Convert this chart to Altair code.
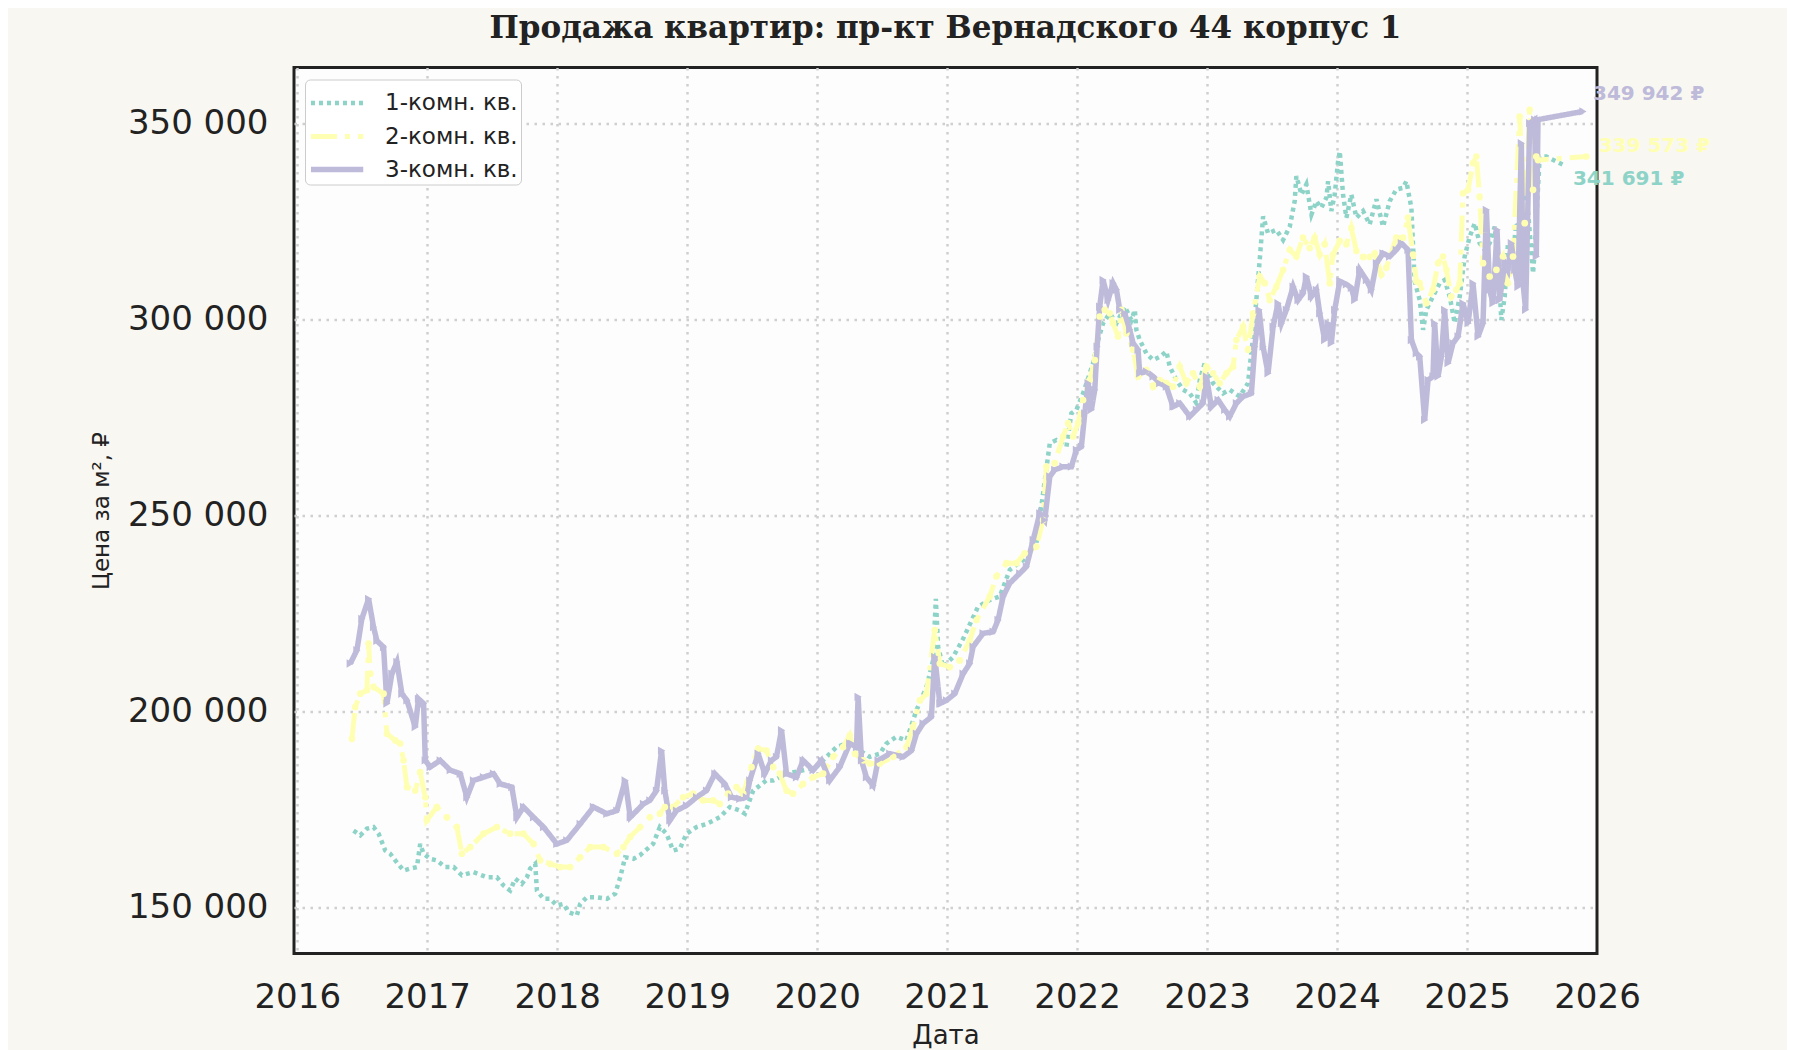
import altair as alt
import pandas as pd

SERIES = ["1-комн. кв.", "2-комн. кв.", "3-комн. кв."]
COLORS = ["#8dd3c7", "#ffffb3", "#bebada"]

YEARS_1K = [
    2016.433, 2016.485, 2016.536, 2016.587, 2016.626, 2016.677, 2016.715, 2016.754, 2016.818, 2016.869,
    2016.921, 2016.946, 2016.972, 2017.023, 2017.074, 2017.138, 2017.203, 2017.267, 2017.356, 2017.459,
    2017.536, 2017.587, 2017.638, 2017.677, 2017.728, 2017.767, 2017.792, 2017.831, 2017.844, 2017.895,
    2017.946, 2017.997, 2018.049, 2018.087, 2018.151, 2018.177, 2018.228, 2018.305, 2018.382, 2018.446,
    2018.485, 2018.523, 2018.587, 2018.636, 2018.738, 2018.790, 2018.841, 2018.892, 2018.944, 2018.995,
    2019.072, 2019.149, 2019.251, 2019.328, 2019.405, 2019.444, 2019.508, 2019.610, 2019.662, 2019.764,
    2019.892, 2019.995, 2020.072, 2020.149, 2020.226, 2020.328, 2020.405, 2020.482, 2020.533, 2020.610,
    2020.687, 2020.764, 2020.841, 2020.892, 2020.913, 2020.931, 2020.969, 2021.046, 2021.123, 2021.238,
    2021.328, 2021.405, 2021.482, 2021.585, 2021.687, 2021.790, 2021.841, 2021.918, 2021.956, 2021.995,
    2022.046, 2022.123, 2022.162, 2022.200, 2022.251, 2022.303, 2022.367, 2022.418, 2022.444, 2022.456,
    2022.482, 2022.533, 2022.585, 2022.636, 2022.687, 2022.713, 2022.764, 2022.815, 2022.867, 2022.918,
    2022.944, 2022.982, 2023.046, 2023.123, 2023.174, 2023.251, 2023.315, 2023.354, 2023.379, 2023.405,
    2023.431, 2023.469, 2023.533, 2023.585, 2023.636, 2023.674, 2023.687, 2023.726, 2023.764, 2023.803,
    2023.841, 2023.879, 2023.918, 2023.931, 2023.956, 2023.982, 2024.008, 2024.021, 2024.046, 2024.072,
    2024.110, 2024.149, 2024.200, 2024.251, 2024.303, 2024.354, 2024.405, 2024.456, 2024.508, 2024.533,
    2024.572, 2024.597, 2024.636, 2024.662, 2024.687, 2024.738, 2024.790, 2024.828, 2024.867, 2024.905,
    2024.944, 2024.982, 2025.021, 2025.059, 2025.097, 2025.136, 2025.174, 2025.213, 2025.251, 2025.264,
    2025.290, 2025.315, 2025.354, 2025.379, 2025.405, 2025.431, 2025.456, 2025.508, 2025.521, 2025.559,
    2025.610, 2025.738,
]
PRICE_1K = [
    169600, 168400, 170100, 170500, 168800, 164500, 163700, 162000, 159400, 159900,
    160300, 166200, 163700, 162400, 162000, 160300, 160300, 158200, 159000, 157700,
    157700, 155600, 154300, 157300, 156000, 157700, 159900, 161100, 154300, 152200,
    152200, 150500, 150900, 148800, 148000, 150900, 152600, 152600, 152200, 153500,
    157700, 162800, 162400, 163300, 166200, 170500, 168800, 164500, 165000, 168800,
    170500, 171300, 173000, 175600, 174700, 173900, 179800, 182400, 182400, 184100,
    185000, 185800, 188400, 190900, 191800, 190000, 188400, 189200, 191800, 193500,
    192600, 200300, 206200, 213000, 228700, 216400, 211300, 213900, 218500, 226700,
    228400, 229300, 236100, 238600, 242900, 268400, 269200, 267500, 276000, 276900,
    281100, 288800, 294700, 299000, 301500, 299000, 303200, 299800, 302400, 297300,
    294700, 291300, 289600, 290400, 291800, 287900, 284500, 282000, 281100, 278600,
    284500, 288800, 283700, 281100, 282000, 280300, 283700, 295600, 304900, 315100,
    326200, 321900, 322800, 320200, 323600, 330100, 336500, 331800, 334400, 326700,
    330100, 328400, 331000, 335200, 327600, 331800, 340300, 342800, 331800, 325900,
    331800, 325900, 327600, 324200, 330600, 323600, 330100, 333100, 333500, 335200,
    328400, 309700, 304900, 297300, 302400, 305800, 309200, 310000, 305800, 299000,
    305800, 316000, 321100, 324500, 319400, 317700, 319400, 323600, 307500, 299800,
    305800, 319400, 316800, 324500, 322800, 319400, 333000, 311700, 317700, 341500,
    341500, 339400,
]

YEARS_2K = [
    2016.421, 2016.446, 2016.485, 2016.536, 2016.549, 2016.562, 2016.587, 2016.664, 2016.690, 2016.754,
    2016.792, 2016.818, 2016.844, 2016.908, 2016.946, 2016.985, 2016.997, 2017.074, 2017.151, 2017.228,
    2017.267, 2017.331, 2017.433, 2017.536, 2017.638, 2017.741, 2017.818, 2017.869, 2017.946, 2018.023,
    2018.100, 2018.177, 2018.254, 2018.356, 2018.459, 2018.510, 2018.562, 2018.638, 2018.713, 2018.790,
    2018.828, 2018.892, 2018.969, 2019.046, 2019.123, 2019.200, 2019.251, 2019.315, 2019.379, 2019.431,
    2019.495, 2019.546, 2019.610, 2019.662, 2019.713, 2019.764, 2019.815, 2019.892, 2019.969, 2020.046,
    2020.123, 2020.200, 2020.251, 2020.290, 2020.354, 2020.405, 2020.482, 2020.585, 2020.687, 2020.738,
    2020.790, 2020.841, 2020.905, 2020.944, 2021.021, 2021.097, 2021.174, 2021.226, 2021.328, 2021.379,
    2021.456, 2021.533, 2021.597, 2021.687, 2021.738, 2021.764, 2021.828, 2021.892, 2021.931, 2021.969,
    2022.008, 2022.046, 2022.097, 2022.136, 2022.174, 2022.213, 2022.251, 2022.277, 2022.315, 2022.341,
    2022.379, 2022.431, 2022.469, 2022.533, 2022.585, 2022.636, 2022.687, 2022.738, 2022.790, 2022.841,
    2022.892, 2022.944, 2022.995, 2023.046, 2023.097, 2023.149, 2023.200, 2023.226, 2023.277, 2023.315,
    2023.354, 2023.405, 2023.444, 2023.482, 2023.533, 2023.585, 2023.636, 2023.687, 2023.738, 2023.790,
    2023.828, 2023.867, 2023.905, 2023.944, 2023.969, 2024.021, 2024.072, 2024.110, 2024.149, 2024.200,
    2024.251, 2024.290, 2024.341, 2024.379, 2024.456, 2024.508, 2024.546, 2024.585, 2024.610, 2024.636,
    2024.687, 2024.738, 2024.777, 2024.815, 2024.841, 2024.879, 2024.918, 2024.944, 2024.969, 2025.008,
    2025.046, 2025.072, 2025.097, 2025.123, 2025.174, 2025.226, 2025.277, 2025.315, 2025.354, 2025.405,
    2025.444, 2025.482, 2025.508, 2025.533, 2025.546, 2025.918,
]
PRICE_2K = [
    193000, 201100, 204500, 205400, 217300, 209600, 206200, 204500, 194300, 192600,
    191800, 187500, 180700, 179800, 184500, 178100, 172200, 175600, 173000, 170500,
    163700, 165400, 168800, 170500, 168800, 168800, 166200, 162000, 161100, 160300,
    160300, 162800, 165400, 165400, 163700, 165400, 168000, 170500, 173000, 173900,
    175600, 175600, 178100, 179000, 177300, 177300, 176400, 179000, 180700, 179000,
    185800, 190500, 190000, 185800, 184100, 179800, 179000, 181500, 183200, 184100,
    188400, 190900, 193900, 189200, 187500, 186700, 186700, 188400, 190900, 196000,
    202800, 204500, 220700, 212200, 211300, 213000, 218100, 223300, 229300, 234400,
    237800, 237800, 240300, 242000, 248800, 262400, 263300, 270100, 273500, 270100,
    273500, 279400, 284500, 289600, 300700, 302400, 301500, 299000, 295600, 302400,
    296400, 292200, 285400, 287100, 282800, 284500, 283700, 282800, 287900, 283700,
    286200, 282800, 287900, 286200, 283700, 286200, 287900, 294700, 298100, 292200,
    301500, 310900, 309200, 304900, 308300, 312600, 317700, 316000, 320800, 318200,
    320800, 316500, 319100, 309200, 316500, 320000, 319100, 323300, 317400, 315900,
    315900, 316800, 311400, 313100, 320800, 320800, 325900, 316500, 309700, 309200,
    304100, 307500, 314300, 316000, 312600, 305800, 307500, 309200, 332100, 333000,
    339800, 341500, 331300, 314300, 310900, 312600, 316000, 309200, 316000, 351700,
    324500, 353400, 333000, 341500, 340600, 341500,
]

YEARS_3K = [
    2016.408, 2016.459, 2016.497, 2016.549, 2016.587, 2016.613, 2016.664, 2016.690, 2016.728, 2016.767,
    2016.805, 2016.844, 2016.908, 2016.933, 2016.972, 2016.985, 2017.023, 2017.100, 2017.177, 2017.254,
    2017.305, 2017.356, 2017.433, 2017.510, 2017.562, 2017.651, 2017.690, 2017.741, 2017.818, 2017.895,
    2017.997, 2018.074, 2018.177, 2018.279, 2018.382, 2018.459, 2018.523, 2018.562, 2018.664, 2018.713,
    2018.764, 2018.803, 2018.828, 2018.867, 2018.918, 2018.995, 2019.072, 2019.149, 2019.213, 2019.290,
    2019.341, 2019.405, 2019.456, 2019.482, 2019.546, 2019.597, 2019.649, 2019.687, 2019.726, 2019.764,
    2019.841, 2019.892, 2019.969, 2020.033, 2020.097, 2020.174, 2020.251, 2020.303, 2020.315, 2020.341,
    2020.379, 2020.431, 2020.469, 2020.559, 2020.662, 2020.726, 2020.764, 2020.815, 2020.879, 2020.905,
    2020.944, 2020.995, 2021.059, 2021.123, 2021.174, 2021.200, 2021.277, 2021.354, 2021.392, 2021.431,
    2021.482, 2021.559, 2021.610, 2021.662, 2021.713, 2021.751, 2021.790, 2021.828, 2021.892, 2021.956,
    2021.995, 2022.033, 2022.059, 2022.085, 2022.110, 2022.136, 2022.154, 2022.174, 2022.200, 2022.238,
    2022.277, 2022.303, 2022.328, 2022.367, 2022.405, 2022.431, 2022.469, 2022.482, 2022.533, 2022.585,
    2022.636, 2022.687, 2022.738, 2022.790, 2022.867, 2022.918, 2022.969, 2022.995, 2023.033, 2023.085,
    2023.136, 2023.174, 2023.226, 2023.277, 2023.341, 2023.367, 2023.400, 2023.431, 2023.469, 2023.508,
    2023.546, 2023.572, 2023.610, 2023.662, 2023.700, 2023.738, 2023.764, 2023.803, 2023.841, 2023.867,
    2023.905, 2023.931, 2023.956, 2023.982, 2024.021, 2024.072, 2024.110, 2024.136, 2024.174, 2024.226,
    2024.264, 2024.303, 2024.354, 2024.405, 2024.456, 2024.495, 2024.546, 2024.572, 2024.610, 2024.636,
    2024.674, 2024.700, 2024.738, 2024.751, 2024.777, 2024.803, 2024.828, 2024.854, 2024.892, 2024.931,
    2024.969, 2025.008, 2025.046, 2025.085, 2025.123, 2025.149, 2025.174, 2025.200, 2025.231, 2025.251,
    2025.290, 2025.315, 2025.341, 2025.367, 2025.392, 2025.418, 2025.431, 2025.451, 2025.482, 2025.521,
    2025.533, 2025.546, 2025.892,
]
PRICE_3K = [
    212200, 215600, 223600, 228700, 221500, 218000, 216400, 202000, 209600, 212600,
    204500, 202800, 196000, 203200, 202000, 187500, 185800, 187500, 185000, 184100,
    178100, 182400, 183200, 184100, 181500, 180700, 173000, 175600, 173000, 170500,
    166200, 167100, 171300, 175600, 173900, 174700, 182400, 173000, 176400, 177300,
    179800, 190000, 179800, 172200, 174700, 176000, 178100, 179800, 184100, 181500,
    178100, 177700, 178100, 182400, 189200, 184100, 187500, 188400, 195200, 184100,
    183200, 187500, 185000, 187500, 182400, 185800, 191800, 190900, 203700, 187500,
    183200, 181100, 187500, 189200, 188400, 190000, 194300, 196900, 198600, 213900,
    202000, 202800, 204500, 209600, 212200, 216500, 219900, 220300, 223300, 229300,
    232700, 235200, 236900, 243700, 250500, 248800, 259900, 261600, 262400, 262400,
    266700, 267500, 276000, 283700, 276900, 282000, 293000, 303200, 310000, 304900,
    309200, 307500, 302400, 301500, 297300, 293900, 292200, 286200, 286700, 285400,
    283700, 282800, 277700, 278600, 275200, 276900, 278600, 285400, 277700, 279400,
    276900, 275200, 278600, 280300, 281100, 293000, 302400, 293000, 286200, 298100,
    304100, 299000, 302400, 308300, 304900, 306600, 310900, 305800, 307500, 301500,
    294700, 299000, 293900, 302400, 309700, 308900, 308000, 304900, 312600, 310000,
    307500, 314300, 316800, 316000, 317700, 319400, 317700, 294700, 291300, 290500,
    274300, 284500, 285400, 299000, 285400, 290500, 302400, 288800, 293900, 295600,
    304100, 299000, 309200, 295600, 299000, 327900, 307500, 304100, 322800, 304900,
    314300, 312600, 319400, 312600, 308300, 344900, 309200, 302400, 350000, 350900,
    316000, 350900, 353000,
]

# подписи последних значений справа от графика
LABEL_TEXT = ["341 691 ₽", "339 573 ₽", "349 942 ₽"]
LABEL_YEAR = [2025.815, 2026.015, 2025.969]
LABEL_PRICE = [335700, 344250, 357400]

rows = []
for name, years, prices in zip(SERIES, [YEARS_1K, YEARS_2K, YEARS_3K], [PRICE_1K, PRICE_2K, PRICE_3K]):
    rows += [{"тип": name, "год": y, "цена": p} for y, p in zip(years, prices)]
df = pd.DataFrame(rows)

labels = pd.DataFrame({"тип": SERIES, "текст": LABEL_TEXT, "год": LABEL_YEAR, "цена": LABEL_PRICE})

legend = alt.Legend(
    title=None, orient="none", legendX=11, legendY=12,
    fillColor="white", strokeColor="#cccccc", cornerRadius=5, padding=3,
    labelFontSize=23, labelFont="DejaVu Sans", labelColor="#222222", labelOffset=35,
    symbolType="M-1,0H1.9", symbolSize=1300, symbolStrokeWidth=4.5, rowPadding=-2,
)

x_enc = alt.X(
    "год:Q",
    scale=alt.Scale(domain=[2015.975, 2026.0], nice=False, zero=False),
    axis=alt.Axis(
        values=list(range(2016, 2027)), format="d", title="Дата",
        labelFontSize=34, labelPadding=27, ticks=False, labelFlush=False,
        titleFontSize=26, titleY=82, titleBaseline="middle",
        gridOpacity=alt.condition("datum.value == 2026", alt.value(0), alt.value(1)),
    ),
)
y_enc = alt.Y(
    "цена:Q",
    scale=alt.Scale(domain=[138250, 364200], nice=False, zero=False),
    axis=alt.Axis(
        values=[150000, 200000, 250000, 300000, 350000],
        labelExpr="replace(format(datum.value, ',d'), ',', ' ')",
        title="Цена за м², ₽", labelFontSize=34, labelPadding=26, ticks=False,
        titleFontSize=23, titleX=-193, titleBaseline="middle",
    ),
)

lines = alt.Chart(df).mark_line(clip=True).encode(
    x=x_enc,
    y=y_enc,
    color=alt.Color("тип:N", scale=alt.Scale(domain=SERIES, range=COLORS), legend=legend),
    strokeDash=alt.StrokeDash(
        "тип:N", scale=alt.Scale(domain=SERIES, range=[[4, 4], [26, 8, 5, 8], [1, 0]]), legend=legend
    ),
    strokeWidth=alt.StrokeWidth("тип:N", scale=alt.Scale(domain=SERIES, range=[4.5, 5.5, 5]), legend=None),
    order=alt.Order("год:Q"),
)

# маркеры: кружки у 2-комн., треугольники у 3-комн.
marks_2k = alt.Chart(df).transform_filter(alt.datum["тип"] == SERIES[1]).mark_point(
    shape="circle", filled=True, size=45, opacity=1, color=COLORS[1]
).encode(x="год:Q", y="цена:Q")
marks_3k = alt.Chart(df).transform_filter(alt.datum["тип"] == SERIES[2]).mark_point(
    shape="triangle-right", filled=True, size=70, opacity=1, color=COLORS[2]
).encode(x="год:Q", y="цена:Q")

end_labels = [
    alt.Chart(labels).transform_filter(alt.datum["тип"] == name).mark_text(
        align="left", baseline="middle", font="DejaVu Sans", fontWeight="bold", fontSize=20, color=col
    ).encode(x="год:Q", y="цена:Q", text="текст:N")
    for name, col in zip(SERIES, COLORS)
]

chart = (
    alt.layer(lines, marks_2k, marks_3k, *end_labels)
    .properties(
        width=1303,
        height=886,
        autosize=alt.AutoSizeParams(type="none"),
        padding={"left": 286, "top": 59.5, "right": 190, "bottom": 100},
        background="#f8f7f2",
        title=alt.TitleParams(
            "Продажа квартир: пр-кт Вернадского 44 корпус 1",
            font="DejaVu Serif", fontSize=31, fontWeight="bold", color="#222222",
            anchor="middle", offset=23,
        ),
    )
    .configure_view(fill="#fdfdfd", stroke="#222222", strokeWidth=3)
    .configure_axis(
        labelFont="DejaVu Sans", labelColor="#222222", titleFont="DejaVu Sans",
        titleColor="#222222", titleFontWeight="normal", domain=False,
        grid=True, gridColor="#cfcfcf", gridDash=[2.5, 5.5], gridWidth=2.5,
    )
)

chart.save("out.html", embed_options={"renderer": "svg", "actions": False})
